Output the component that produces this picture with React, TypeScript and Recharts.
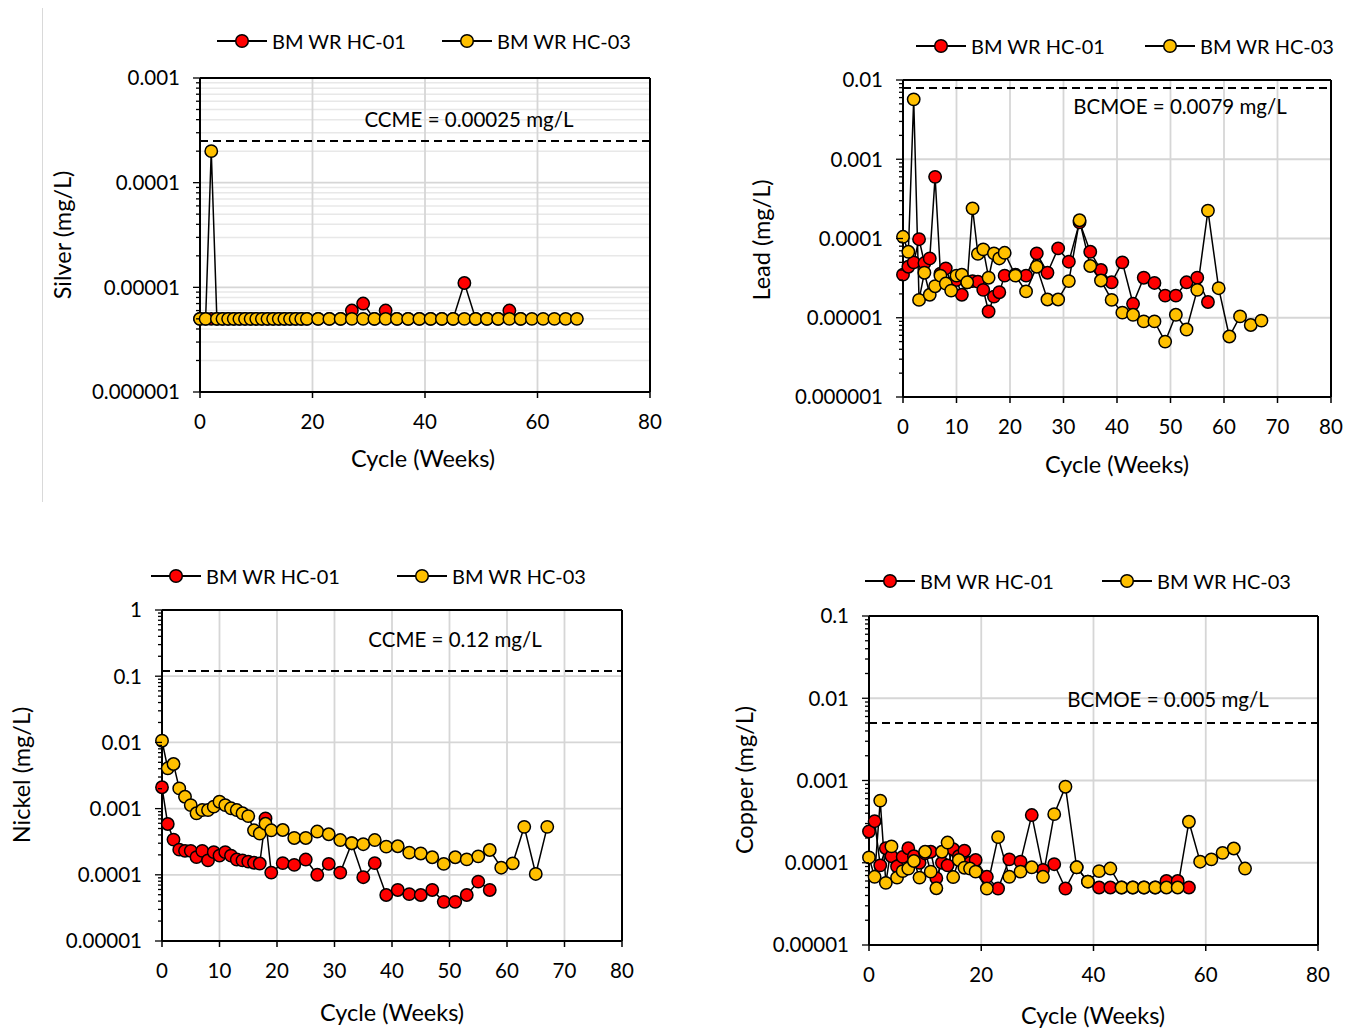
import React from "react";
import { LineChart, Line, XAxis, YAxis, CartesianGrid, ReferenceLine } from "recharts";

const FONT = "Lato, 'Noto Sans', sans-serif";
const RED = "#ff0000";
const GOLD = "#ffc000";

// cycle (weeks) shared by every panel; HC-01 stops at week 57
const weeks = [
  0, 1, 2, 3, 4, 5, 6, 7, 8, 9, 10, 11, 12, 13, 14, 15, 16, 17, 18, 19,
  21, 23, 25, 27, 29, 31, 33, 35, 37, 39, 41, 43, 45, 47, 49, 51, 53, 55, 57, 59, 61, 63, 65, 67,
];

const silverHC01 = [
  5e-6, 5e-6, 5e-6, 5e-6, 5e-6, 5e-6, 5e-6, 5e-6, 5e-6, 5e-6, 5e-6, 5e-6, 5e-6, 5e-6, 5e-6, 5e-6, 5e-6, 5e-6, 5e-6, 5e-6,
  5e-6, 5e-6, 5e-6, 6e-6, 7e-6, 5e-6, 6e-6, 5e-6, 5e-6, 5e-6, 5e-6, 5e-6, 5e-6, 1.1e-5, 5e-6, 5e-6, 5e-6, 6e-6, 5e-6,
];
const silverHC03 = [
  5e-6, 5e-6, 2e-4, 5e-6, 5e-6, 5e-6, 5e-6, 5e-6, 5e-6, 5e-6, 5e-6, 5e-6, 5e-6, 5e-6, 5e-6, 5e-6, 5e-6, 5e-6, 5e-6, 5e-6,
  5e-6, 5e-6, 5e-6, 5e-6, 5e-6, 5e-6, 5e-6, 5e-6, 5e-6, 5e-6, 5e-6, 5e-6, 5e-6, 5e-6, 5e-6, 5e-6, 5e-6, 5e-6, 5e-6, 5e-6,
  5e-6, 5e-6, 5e-6, 5e-6,
];

const leadHC01 = [
  3.5e-5, 4.4e-5, 5.0e-5, 9.8e-5, 4.9e-5, 5.6e-5, 6.0e-4, 3.6e-5, 4.2e-5, 2.7e-5, 3.0e-5, 1.95e-5, 2.8e-5, 2.9e-5, 2.85e-5,
  2.25e-5, 1.2e-5, 1.85e-5, 2.1e-5, 3.4e-5,
  3.5e-5, 3.4e-5, 6.5e-5, 3.7e-5, 7.5e-5, 5.1e-5, 1.6e-4, 6.8e-5, 4.0e-5, 2.8e-5, 5.0e-5, 1.5e-5, 3.2e-5, 2.75e-5, 1.9e-5,
  1.9e-5, 2.8e-5, 3.2e-5, 1.58e-5,
];
const leadHC03 = [
  1.05e-4, 6.8e-5, 5.7e-3, 1.68e-5, 3.7e-5, 1.95e-5, 2.5e-5, 3.4e-5, 2.7e-5, 2.2e-5, 3.4e-5, 3.5e-5, 2.8e-5, 2.4e-4, 6.4e-5,
  7.3e-5, 3.2e-5, 6.5e-5, 5.6e-5, 6.6e-5,
  3.4e-5, 2.15e-5, 4.4e-5, 1.7e-5, 1.7e-5, 2.9e-5, 1.7e-4, 4.5e-5, 2.95e-5, 1.68e-5, 1.16e-5, 1.09e-5, 9.0e-6, 9.0e-6, 5.0e-6,
  1.09e-5, 7.1e-6, 2.25e-5, 2.25e-4, 2.36e-5, 5.8e-6, 1.04e-5, 8.1e-6, 9.2e-6,
];

const nickelHC01 = [
  2.1e-3, 5.85e-4, 3.4e-4, 2.4e-4, 2.3e-4, 2.3e-4, 1.85e-4, 2.3e-4, 1.65e-4, 2.2e-4, 1.95e-4, 2.2e-4, 1.95e-4, 1.7e-4, 1.65e-4,
  1.58e-4, 1.52e-4, 1.48e-4, 7.1e-4, 1.08e-4,
  1.5e-4, 1.41e-4, 1.7e-4, 1.0e-4, 1.46e-4, 1.08e-4, 3.0e-4, 9.2e-5, 1.5e-4, 4.95e-5, 5.9e-5, 5.1e-5, 4.95e-5, 5.9e-5, 3.9e-5,
  3.9e-5, 4.95e-5, 7.9e-5, 5.9e-5,
];
const nickelHC03 = [
  1.06e-2, 4.06e-3, 4.72e-3, 2.02e-3, 1.51e-3, 1.13e-3, 8.5e-4, 9.5e-4, 9.5e-4, 1.07e-3, 1.27e-3, 1.13e-3, 1.01e-3, 9.5e-4, 8.5e-4,
  7.7e-4, 4.7e-4, 4.2e-4, 5.9e-4, 4.7e-4,
  4.75e-4, 3.6e-4, 3.6e-4, 4.5e-4, 4.1e-4, 3.35e-4, 3.0e-4, 2.9e-4, 3.35e-4, 2.66e-4, 2.7e-4, 2.16e-4, 2.1e-4, 1.84e-4, 1.46e-4,
  1.84e-4, 1.71e-4, 1.9e-4, 2.37e-4, 1.28e-4, 1.49e-4, 5.3e-4, 1.03e-4, 5.3e-4,
];

const copperHC01 = [
  2.4e-4, 3.2e-4, 9.3e-5, 1.5e-4, 1.2e-4, 9.0e-5, 1.18e-4, 1.5e-4, 1.2e-4, 1.0e-4, 1.3e-4, 1.36e-4, 6.5e-5, 1.0e-4, 9.3e-5,
  1.46e-4, 1.2e-4, 1.4e-4, 1.0e-4, 1.08e-4,
  6.75e-5, 4.86e-5, 1.1e-4, 1.03e-4, 3.8e-4, 8.2e-5, 9.6e-5, 4.86e-5, 8.8e-5, 5.9e-5, 5.0e-5, 5.0e-5, 5.0e-5, 5.0e-5, 5.0e-5,
  5.0e-5, 6.0e-5, 6.0e-5, 5.0e-5,
];
const copperHC03 = [
  1.16e-4, 6.75e-5, 5.7e-4, 5.7e-5, 1.58e-4, 6.6e-5, 7.9e-5, 8.5e-5, 1.05e-4, 6.6e-5, 1.36e-4, 7.8e-5, 4.9e-5, 1.36e-4, 1.76e-4,
  6.7e-5, 1.08e-4, 8.7e-5, 8.5e-5, 7.8e-5,
  4.86e-5, 2.05e-4, 6.75e-5, 7.8e-5, 8.8e-5, 6.75e-5, 3.9e-4, 8.4e-4, 8.8e-5, 5.9e-5, 7.9e-5, 8.5e-5, 5.0e-5, 5.0e-5, 5.0e-5,
  5.0e-5, 5.0e-5, 5.0e-5, 3.15e-4, 1.03e-4, 1.1e-4, 1.32e-4, 1.49e-4, 8.5e-5,
];

const silverTicks = [0.000001, 0.00001, 0.0001, 0.001];
const leadTicks = [0.000001, 0.00001, 0.0001, 0.001, 0.01];
const nickelTicks = [0.00001, 0.0001, 0.001, 0.01, 0.1, 1];
const copperTicks = [0.00001, 0.0001, 0.001, 0.01, 0.1];
const x20 = [0, 20, 40, 60, 80];
const x10 = [0, 10, 20, 30, 40, 50, 60, 70, 80];

const isDecade = (v: number) => Math.abs(Math.log10(v) - Math.round(Math.log10(v))) < 1e-9;
const fmt = (v: number) => (v >= 1 ? String(v) : v.toFixed(Math.round(-Math.log10(v))));
const minorsOf = (majors: number[]) =>
  majors.slice(0, -1).flatMap((d) => [2, 3, 4, 5, 6, 7, 8, 9].map((k) => k * d));

function LogTick(props: any) {
  const { x, y, payload } = props;
  const v = payload.value as number;
  const major = isDecade(v);
  return (
    <g>
      <line x1={x} x2={x - (major ? 7 : 4)} y1={y} y2={y} stroke="#000" strokeWidth={1.3} />
      {major && (
        <text x={x - 20} y={y} dy="0.36em" textAnchor="end" fontSize={20.5} fontFamily={FONT} fill="#000">
          {fmt(v)}
        </text>
      )}
    </g>
  );
}

function Marker({ color }: { color: string }) {
  return (
    <svg width={50} height={24} style={{ display: "block" }}>
      <line x1={0} x2={50} y1={12} y2={12} stroke="#000" strokeWidth={2} />
      <circle cx={25} cy={12} r={6.3} fill={color} stroke="#000" strokeWidth={1.5} />
    </svg>
  );
}

const abs = (left: number, top: number): React.CSSProperties => ({ position: "absolute", left, top });
const centered = (cx: number, cy: number, size: number, rotate = false): React.CSSProperties => ({
  position: "absolute",
  left: cx,
  top: cy,
  transform: `translate(-50%, -50%)${rotate ? " rotate(-90deg)" : ""}`,
  whiteSpace: "nowrap",
  fontFamily: FONT,
  fontSize: size,
  color: "#000",
  lineHeight: 1,
});

type PanelProps = {
  plot: [number, number, number, number];
  yTicks: number[];
  xTicks: number[];
  hc01: number[];
  hc03: number[];
  limit: number;
  limitText: string;
  limitAt: [number, number];
  yTitle: string;
  yTitleAt: [number, number];
  xTitleAt: [number, number];
  legendY: number;
  legendX: [number, number];
  minorGrid?: boolean;
};

const YW = 130;
const MT = 26;
const MR = 14;
const XH = 60;

function Panel(p: PanelProps) {
  const [x0, y0, x1, y1] = p.plot;
  const rows = weeks.map((w, i) => ({
    week: w,
    hc01: i < p.hc01.length ? p.hc01[i] : null,
    hc03: i < p.hc03.length ? p.hc03[i] : null,
  }));
  const lo = p.yTicks[0];
  const hi = p.yTicks[p.yTicks.length - 1];
  const allTicks = [...p.yTicks, ...minorsOf(p.yTicks)].sort((a, b) => a - b);
  return (
    <>
      <div style={abs(x0 - YW, y0 - MT)}>
        <LineChart
          width={x1 - x0 + YW + MR}
          height={y1 - y0 + MT + XH}
          data={rows}
          margin={{ top: MT, right: MR, bottom: 0, left: 0 }}
        >
          {p.minorGrid && (
            <CartesianGrid
              vertical={false}
              horizontalValues={minorsOf(p.yTicks)}
              stroke="#e8e8e8"
              strokeWidth={1.5}
            />
          )}
          <CartesianGrid horizontalValues={p.yTicks} verticalValues={p.xTicks} stroke="#d6d6d6" strokeWidth={1.8} />
          <XAxis
            type="number"
            dataKey="week"
            domain={[0, 80]}
            ticks={p.xTicks}
            interval={0}
            height={XH}
            axisLine={{ stroke: "#000", strokeWidth: 2 }}
            tickLine={{ stroke: "#000", strokeWidth: 1.5 }}
            tickSize={6}
            tickMargin={16}
            tick={{ fill: "#000", fontSize: 20.5, fontFamily: FONT }}
          />
          <YAxis
            type="number"
            scale="log"
            domain={[lo, hi]}
            allowDataOverflow
            ticks={allTicks}
            interval={0}
            width={YW}
            tickLine={false}
            tickSize={0}
            tickMargin={0}
            axisLine={{ stroke: "#000", strokeWidth: 2 }}
            tick={(t: any) => <LogTick {...t} />}
          />
          <ReferenceLine y={hi} stroke="#000" strokeWidth={2} />
          <ReferenceLine x={80} stroke="#000" strokeWidth={2} />
          <ReferenceLine y={p.limit} stroke="#000" strokeWidth={2} strokeDasharray="8 5" />
          <Line
            dataKey="hc01"
            type="linear"
            stroke="#000"
            strokeWidth={1.5}
            dot={{ r: 6.2, fill: RED, stroke: "#000", strokeWidth: 1.5 }}
            isAnimationActive={false}
          />
          <Line
            dataKey="hc03"
            type="linear"
            stroke="#000"
            strokeWidth={1.5}
            dot={{ r: 6.2, fill: GOLD, stroke: "#000", strokeWidth: 1.5 }}
            isAnimationActive={false}
          />
        </LineChart>
      </div>
      <div style={centered(p.limitAt[0], p.limitAt[1], 20.5)}>{p.limitText}</div>
      <div style={centered(p.xTitleAt[0], p.xTitleAt[1], 23.5)}>Cycle (Weeks)</div>
      <div style={centered(p.yTitleAt[0], p.yTitleAt[1], 23.5, true)}>{p.yTitle}</div>
      {(["BM WR HC-01", "BM WR HC-03"] as const).map((name, i) => (
        <div
          key={name}
          style={{ ...abs(p.legendX[i] - 25, p.legendY - 12), display: "flex", alignItems: "center", height: 24 }}
        >
          <Marker color={i === 0 ? RED : GOLD} />
          <span style={{ marginLeft: 5, fontFamily: FONT, fontSize: 20, whiteSpace: "nowrap", lineHeight: 1 }}>
            {name}
          </span>
        </div>
      ))}
    </>
  );
}

export default function App() {
  return (
    <div style={{ position: "absolute", left: 0, top: 0, width: 1350, height: 1031, background: "#fff", overflow: "hidden" }}>
      <div style={{ position: "absolute", left: 42, top: 8, width: 1, height: 494, background: "#d9d9d9" }} />
      <Panel
        plot={[200, 78, 650, 392]}
        yTicks={silverTicks}
        xTicks={x20}
        hc01={silverHC01}
        hc03={silverHC03}
        limit={0.00025}
        limitText="CCME = 0.00025 mg/L"
        limitAt={[469, 119]}
        yTitle="Silver (mg/L)"
        yTitleAt={[63, 235]}
        xTitleAt={[423, 459]}
        legendY={41}
        legendX={[242, 467]}
        minorGrid
      />
      <Panel
        plot={[903, 80, 1331, 397]}
        yTicks={leadTicks}
        xTicks={x10}
        hc01={leadHC01}
        hc03={leadHC03}
        limit={0.0079}
        limitText="BCMOE = 0.0079 mg/L"
        limitAt={[1180, 106]}
        yTitle="Lead (mg/L)"
        yTitleAt={[762, 240]}
        xTitleAt={[1117, 465]}
        legendY={46}
        legendX={[941, 1170]}
      />
      <Panel
        plot={[162, 610, 622, 941]}
        yTicks={nickelTicks}
        xTicks={x10}
        hc01={nickelHC01}
        hc03={nickelHC03}
        limit={0.12}
        limitText="CCME = 0.12 mg/L"
        limitAt={[455, 639]}
        yTitle="Nickel (mg/L)"
        yTitleAt={[22, 775]}
        xTitleAt={[392, 1013]}
        legendY={576}
        legendX={[176, 422]}
      />
      <Panel
        plot={[869, 616, 1318, 945]}
        yTicks={copperTicks}
        xTicks={x20}
        hc01={copperHC01}
        hc03={copperHC03}
        limit={0.005}
        limitText="BCMOE = 0.005 mg/L"
        limitAt={[1168, 699]}
        yTitle="Copper (mg/L)"
        yTitleAt={[745, 780]}
        xTitleAt={[1093, 1016]}
        legendY={581}
        legendX={[890, 1127]}
      />
    </div>
  );
}
